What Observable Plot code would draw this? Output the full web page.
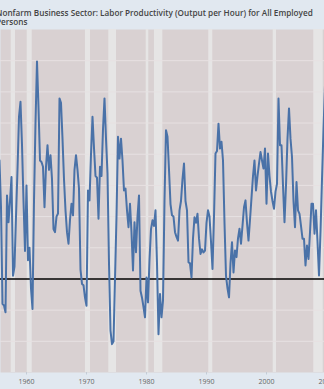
<!DOCTYPE html>
<html><head><meta charset="utf-8">
<script src="https://cdn.jsdelivr.net/npm/d3@7"></script>
<script src="https://cdn.jsdelivr.net/npm/@observablehq/plot@0.6"></script>
<style>
html,body{margin:0;padding:0;background:#e1e8f0;overflow:hidden;width:324px;height:389px}
#title{position:absolute;left:-4px;top:7.5px;width:340px;font:600 8.2px "Open Sans";color:#444;line-height:9.5px;white-space:nowrap}
#chart{position:absolute;left:0;top:29px}
</style></head><body>
<div id="title">Nonfarm Business Sector: Labor Productivity (Output per Hour) for All Employed<br>Persons</div>
<div id="chart"></div>
<script>
const titleText = "Nonfarm Business Sector: Labor Productivity (Output per Hour) for All Employed Persons";
const firstQuarter = 1955.5;
const values = [
  3.8, 2.3,
  -0.8, -0.85, -1.07, 2.68,
  1.82, 2.5, 3.27, 0.1,
  0.4, 2.0, 3.5, 5.2,
  5.68, 4.3, 2.5, 0.9,
  3.0, 0.6, 1.0, -0.3,
  -0.96, 2.5, 5.0, 6.97,
  5.5, 3.8, 3.75, 3.6,
  2.3, 3.6, 4.29, 3.5,
  3.97, 3.2, 1.6, 1.5,
  2.0, 2.1, 5.79, 5.65,
  4.5, 3.2, 2.2, 1.5,
  1.13, 1.9, 2.41, 2.04,
  3.5, 3.97, 3.5, 2.9,
  0.3, -0.16, -0.2, -0.6,
  -0.86, 2.84, 2.52, 4.0,
  5.2, 4.2, 3.3, 3.25,
  1.93, 3.6, 3.3, 4.8,
  5.79, 4.5, 3.38, 0.5,
  -1.66, -2.09, -2.0, 0.0,
  2.0, 4.56, 3.86, 4.5,
  3.8, 2.84, 2.9, 2.2,
  1.66, 2.41, 1.5, 0.27,
  1.82, 0.86, 2.0, 2.68,
  -0.38, -0.6, -0.9, -1.23,
  0.05, -0.75, 0.6, 1.6,
  1.88, 1.7, 2.2, 0.5,
  -1.77, -0.48, -1.23, -0.7,
  2.5, 4.77, 4.56, 3.5,
  2.4, 2.04, 2.0, 1.5,
  1.35, 1.23, 2.2, 2.5,
  3.2, 3.7, 2.5, 2.2,
  0.54, 0.5, 0.05, 1.3,
  1.98, 1.8, 2.09, 1.3,
  0.8, 0.95, 0.85, 0.91,
  1.8, 2.2, 2.0, 1.2,
  0.32, 2.0, 4.02, 4.1,
  4.98, 4.18, 4.4, 3.8,
  1.8, 0.1, -0.3, -0.59,
  0.5, 1.18, 0.21, 0.91,
  0.7, 1.3, 1.61, 1.13,
  1.7, 2.3, 2.52, 1.8,
  1.23, 1.9, 2.6, 3.3,
  3.8, 2.84, 3.3, 3.7,
  4.07, 3.8, 3.54, 4.18,
  2.41, 4.02, 3.3, 2.8,
  2.5, 2.25, 2.8, 3.05,
  5.79, 4.29, 4.29, 3.0,
  1.82, 3.0, 4.5, 5.47,
  4.5, 3.91, 2.5, 1.66,
  3.11, 2.2, 2.09, 1.7,
  1.29, 1.29, 0.43, 1.07,
  0.64, 1.5, 2.41, 2.41,
  1.45, 2.2, 1.2, 0.11,
  1.5, 3.2, 4.8, 6.2,
  6.5
];
const recessionStart = [1957.45, 1960.12, 1969.83, 1973.72, 1979.95, 1981.33, 1990.38, 2001.12, 2007.88];
const recessionEnd   = [1958.17, 1960.95, 1970.67, 1975.0, 1980.38, 1982.72, 1991.05, 2001.67, 2009.45];
const xTicks = [1960, 1970, 1980, 1990, 2000, 2010];
const yGrid = [-2, -1, 1, 2, 3, 4, 5, 6, 7];

const data = values.map((v, i) => ({date: firstQuarter + i * 0.25, value: v}));
const recessions = recessionStart.map((s, i) => ({start: s, end: recessionEnd[i]}));

const chart = Plot.plot({
  width: 324, height: 360,
  marginTop: 0, marginBottom: 17, marginLeft: 0, marginRight: 0,
  style: {background: "transparent", overflow: "visible", fontFamily: "Open Sans"},
  x: {domain: [1955.667, 2009.667], label: null},
  y: {domain: [-3, 8], label: null, axis: null},
  marks: [
    Plot.frame({fill: "#d9d1d2", stroke: "none"}),
    Plot.rect(recessions, {x1: "start", x2: "end", fill: "#e6e5e5"}),
    Plot.gridY(yGrid, {stroke: "#e7e1e2", strokeOpacity: 1, strokeWidth: 1}),
    Plot.ruleY([0], {stroke: "#000", strokeWidth: 1.4}),
    Plot.line(data, {x: "date", y: "value", stroke: "#4a72a8", strokeWidth: 2, clip: true}),
    Plot.axisX(xTicks, {tickSize: 2.5, tickPadding: 4.5, stroke: "#c4ccd6", fill: "#666", fontSize: 7, tickFormat: "d", label: null})
  ]
});
document.getElementById("chart").appendChild(chart);
</script></body></html>
